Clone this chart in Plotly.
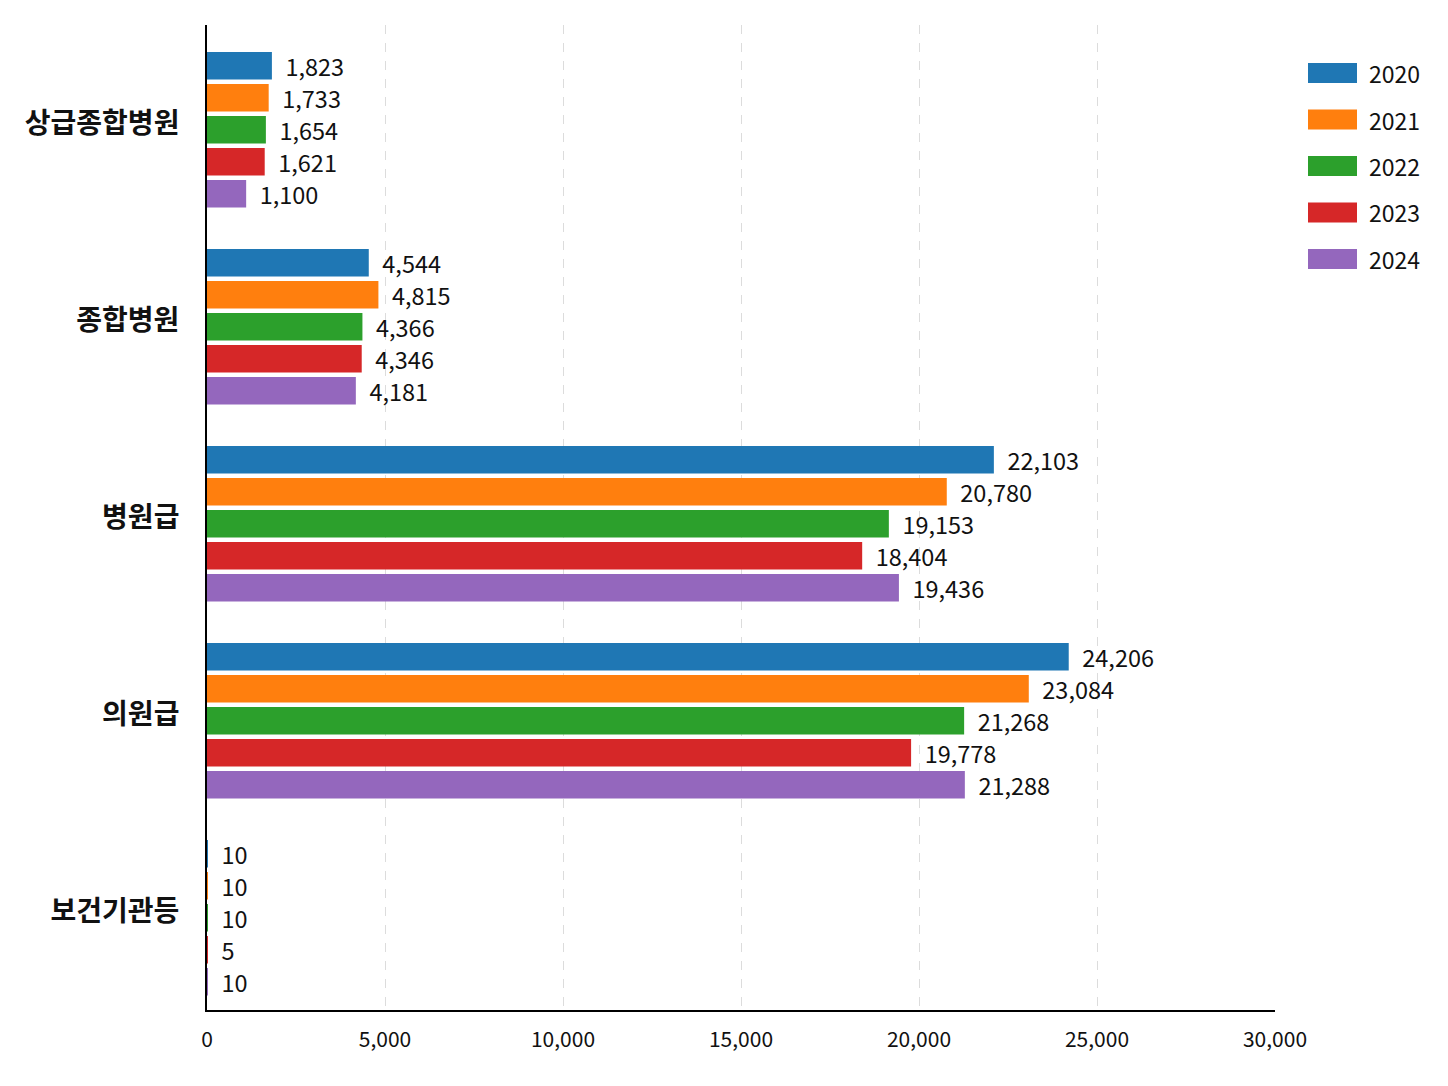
import plotly.graph_objects as go

categories = ["상급종합병원", "종합병원", "병원급", "의원급", "보건기관등"]
years = ["2020", "2021", "2022", "2023", "2024"]

v2020 = [1823, 4544, 22103, 24206, 10]
v2021 = [1733, 4815, 20780, 23084, 10]
v2022 = [1654, 4366, 19153, 21268, 10]
v2023 = [1621, 4346, 18404, 19778, 5]
v2024 = [1100, 4181, 19436, 21288, 10]

x_ticks = [0, 5000, 10000, 15000, 20000, 25000, 30000]

colors = ["#1f77b4", "#ff7f0e", "#2ca02c", "#d62728", "#9467bd"]
series = [v2020, v2021, v2022, v2023, v2024]

FONT = "Noto Sans CJK KR"

# plot area in page pixels (page body has an 8px margin)
L, R, T, B = 199, 181, 17, 84
W, H = 1448, 1086
PW = W - L - R
PH = H - T - B

# bar slot geometry (fraction of one category band)
BAR_W = 0.14
BAR_STEP = 0.1624
FIRST = -0.363

fig = go.Figure()

for i, (year, vals, col) in enumerate(zip(years, series, colors)):
    fig.add_trace(go.Bar(
        y=categories, x=vals, orientation="h",
        name=year, showlegend=False,
        width=BAR_W, offset=FIRST + i * BAR_STEP,
        marker=dict(color=col, line=dict(width=0)),
        text=[f"  {v:,}" for v in vals],
        textposition="outside", constraintext="none",
        textfont=dict(size=23.5, color="#111"),
        cliponaxis=False,
    ))

# legend drawn as wide swatches like the original
legend_left = 1300 - L          # px from plot left
legend_top = 55 - T             # px from plot top
step = 46.5
shapes = []
annotations = []
for i, (year, col) in enumerate(zip(years, colors)):
    cy = legend_top + 10 + i * step
    shapes.append(dict(
        type="rect", xref="paper", yref="paper", line=dict(width=0),
        fillcolor=col,
        x0=legend_left / PW, x1=(legend_left + 49) / PW,
        y0=1 - (cy + 10) / PH, y1=1 - (cy - 10) / PH,
    ))
    annotations.append(dict(
        xref="paper", yref="paper", showarrow=False,
        x=(legend_left + 59) / PW, y=1 - cy / PH,
        xanchor="left", yanchor="middle",
        text=year, font=dict(size=23, color="#111"),
    ))

fig.update_layout(
    width=W, height=H,
    paper_bgcolor="white", plot_bgcolor="white",
    font=dict(family=FONT, color="#111"),
    barmode="overlay",
    margin=dict(l=L, r=R, t=T, b=B),
    showlegend=False,
    shapes=shapes, annotations=annotations,
)

fig.update_xaxes(
    range=[0, 30000], tickvals=x_ticks, tickformat=",",
    tickfont=dict(size=21), ticks="", ticklabelstandoff=10,
    showgrid=True, gridcolor="#dcdcdc", griddash="dash", gridwidth=1,
    showline=True, linecolor="black", linewidth=2, zeroline=False,
)
fig.update_yaxes(
    autorange="reversed", type="category",
    tickfont=dict(size=28, weight="bold"), ticks="", ticklabelstandoff=20,
    showgrid=False,
    showline=True, linecolor="black", linewidth=2,
)

fig.write_html("out.html")
